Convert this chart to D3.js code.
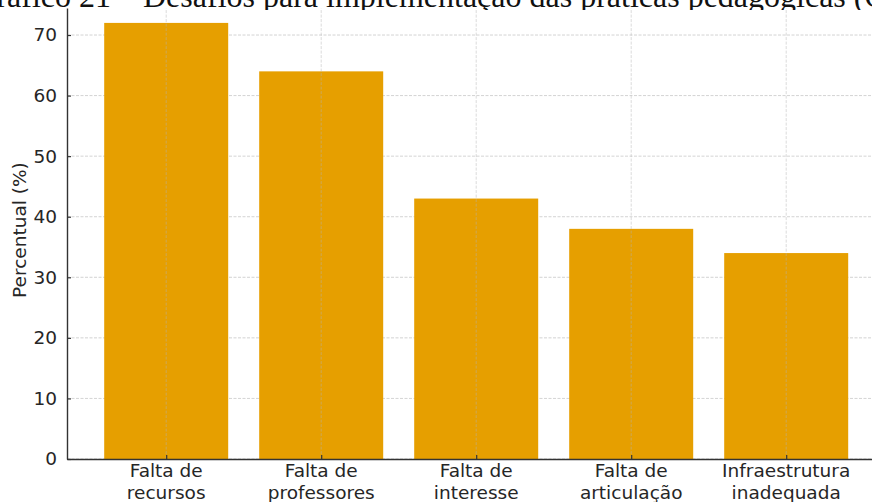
<!DOCTYPE html>
<html>
<head>
<meta charset="utf-8">
<script src="https://cdn.jsdelivr.net/npm/d3@7"></script>
<style>
  html, body { margin: 0; padding: 0; background: #fff; }
  svg { display: block; }
</style>
</head>
<body>
<svg id="chart" width="872" height="502"></svg>
<script>
// Data
const categories = [
  ["Falta de", "recursos"],
  ["Falta de", "professores"],
  ["Falta de", "interesse"],
  ["Falta de", "articulação"],
  ["Infraestrutura", "inadequada"],
];
const values = [72, 64, 43, 38, 34];
const yTicks = [0, 10, 20, 30, 40, 50, 60, 70];
const titlePrefix = "Gráfico 21 – ";
const titleRest = "Desafios para implementação das práticas pedagógicas (Q)";

const W = 872, H = 502;
const BAR_COLOR = "#E69F00";
const INK = "#262626";
const FONT = "DejaVu Sans, sans-serif";

const svg = d3.select("#chart");

// Scales (matplotlib-like: bars at integer positions, width 0.8, 5% margins)
const x = d3.scaleLinear().domain([-0.64, 4.64]).range([67, 885.4]);
const y = d3.scaleLinear().domain([0, 75.6]).range([459, 1.1]);
const barW = x(0.8) - x(0);

// Horizontal grid (behind bars)
svg.append("g")
  .selectAll("line")
  .data(yTicks)
  .join("line")
  .attr("x1", x.range()[0])
  .attr("x2", x.range()[1])
  .attr("y1", (d) => y(d))
  .attr("y2", (d) => y(d))
  .attr("stroke", "#c8c8c8")
  .attr("stroke-width", 0.8)
  .attr("stroke-dasharray", "3,1.5");

// Bars
svg.append("g")
  .selectAll("rect")
  .data(values)
  .join("rect")
  .attr("x", (d, i) => x(i) - barW / 2)
  .attr("y", (d) => y(d))
  .attr("width", barW)
  .attr("height", (d) => y(0) - y(d))
  .attr("fill", BAR_COLOR);

// Vertical grid (over bars)
svg.append("g")
  .selectAll("line")
  .data(values.map((d, i) => i))
  .join("line")
  .attr("x1", (d) => x(d))
  .attr("x2", (d) => x(d))
  .attr("y1", y.range()[1])
  .attr("y2", y(0))
  .attr("stroke", "#b0b0b0")
  .attr("stroke-opacity", 0.6)
  .attr("stroke-width", 0.8)
  .attr("stroke-dasharray", "3,1.5");

// Y axis (ticks point inward)
const yAxis = svg.append("g")
  .attr("transform", `translate(${x.range()[0]},0)`)
  .call(d3.axisLeft(y).tickValues(yTicks).tickSizeInner(-4).tickSizeOuter(0).tickPadding(10));
yAxis.select(".domain").attr("stroke", "#333").attr("stroke-width", 1.4);
yAxis.selectAll(".tick line").attr("stroke", "#333").attr("stroke-width", 1.2);
yAxis.selectAll(".tick text")
  .attr("font-family", FONT)
  .attr("font-size", 18.5)
  .attr("fill", INK);

// X axis
const xAxis = svg.append("g")
  .attr("transform", `translate(0,${y(0)})`)
  .call(d3.axisBottom(x).tickValues(values.map((d, i) => i)).tickSizeInner(-4).tickSizeOuter(0).tickFormat(""));
xAxis.select(".domain").attr("stroke", "#333").attr("stroke-width", 1.4);
xAxis.selectAll(".tick line").attr("stroke", "#333").attr("stroke-width", 1.2);

const labels = svg.append("g")
  .selectAll("text")
  .data(categories)
  .join("text")
  .attr("x", (d, i) => x(i))
  .attr("y", y(0) + 18)
  .attr("text-anchor", "middle")
  .attr("font-family", FONT)
  .attr("font-size", 18.5)
  .attr("fill", INK);
labels.selectAll("tspan")
  .data((d) => d)
  .join("tspan")
  .attr("x", function () { return this.parentNode.getAttribute("x"); })
  .attr("dy", (d, i) => (i === 0 ? 0 : 22))
  .text((d) => d);

// Y label
svg.append("text")
  .attr("transform", `translate(26,${y(37.8)}) rotate(-90)`)
  .attr("text-anchor", "middle")
  .attr("font-family", FONT)
  .attr("font-size", 18.5)
  .attr("fill", INK)
  .text("Percentual (%)");

// Title band, cropped at the top of the picture
svg.append("defs").append("clipPath").attr("id", "titleClip")
  .append("rect").attr("x", 0).attr("y", 0).attr("width", W).attr("height", 10);
const tg = svg.append("g").attr("clip-path", "url(#titleClip)");
tg.append("rect").attr("width", W).attr("height", 8.5).attr("fill", "#fff");
const title = tg.append("text")
  .attr("y", 6.5)
  .attr("font-family", "Liberation Serif, Times New Roman, serif")
  .attr("font-size", 32)
  .attr("fill", "#111");
const tb = title.append("tspan").text(titlePrefix);
title.append("tspan").text(titleRest);
// place "Desafios" where it sits in the reference
const prefixW = tb.node().getComputedTextLength();
title.attr("x", 143 - prefixW);
</script>
</body>
</html>
